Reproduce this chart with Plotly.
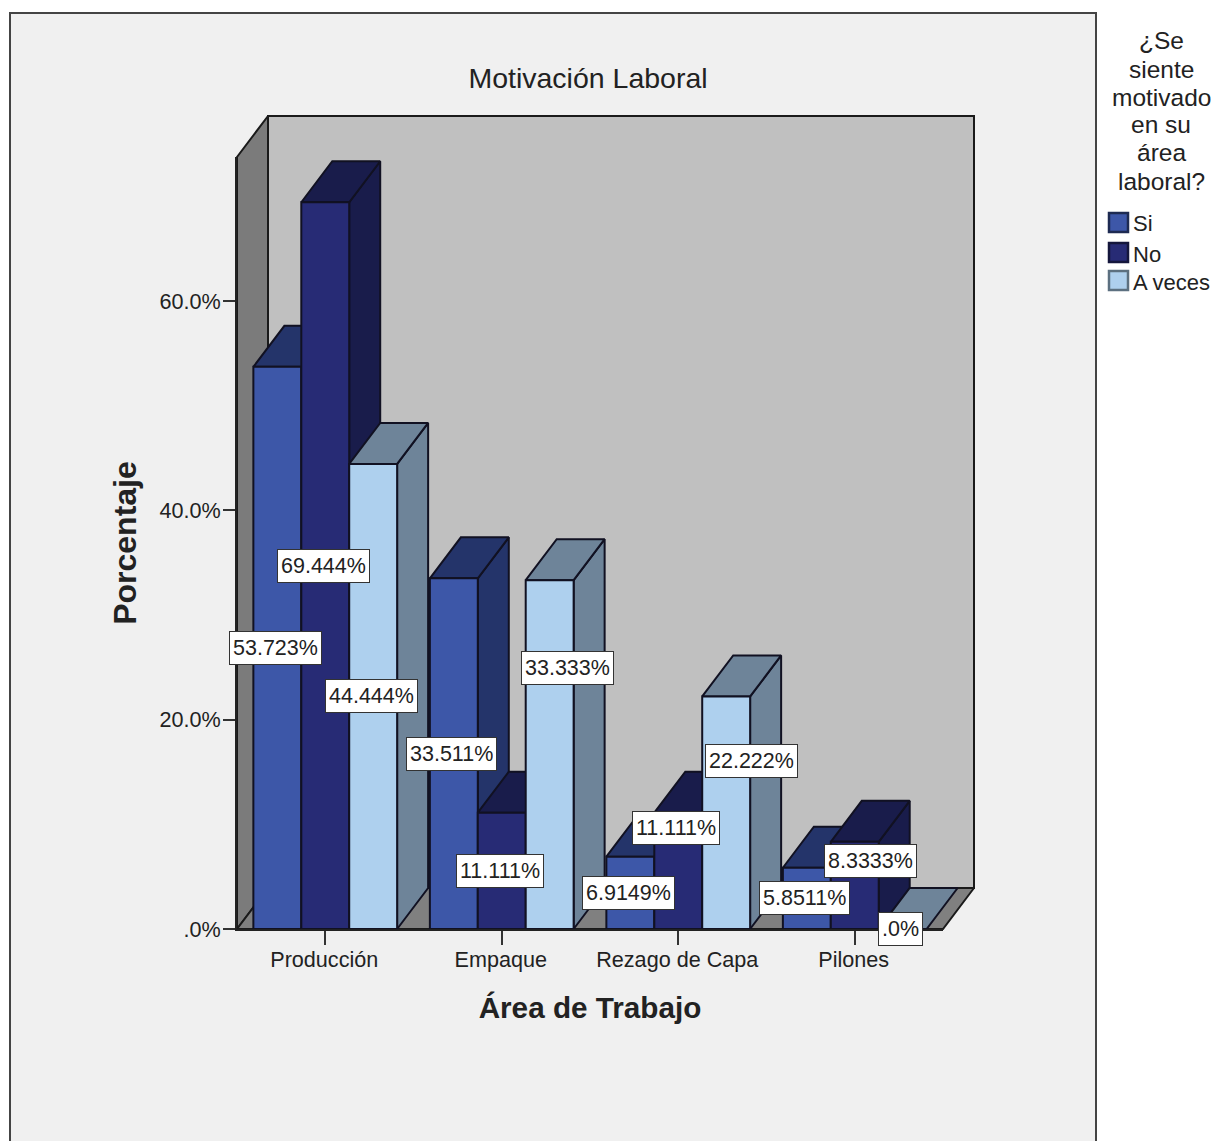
import plotly.graph_objects as go

# Survey results
AREAS = ["Producción", "Empaque", "Rezago de Capa", "Pilones"]
SI = [53.723, 33.511, 6.9149, 5.8511]
NO = [69.444, 11.111, 11.111, 8.3333]
A_VECES = [44.444, 33.333, 22.222, 0.0]
Y_TICKS = [0, 20, 40, 60]
Y_TICK_TEXT = [".0%", "20.0%", "40.0%", "60.0%"]

TITLE = "Motivación Laboral"
LEGEND_TITLE_LINES = ["¿Se", "siente", "motivado", "en su", "área", "laboral?"]

# Page geometry
W, H = 1217, 1141
FRONT_LEFT, FRONT_RIGHT = 237, 943
FRONT_TOP, FRONT_BOTTOM = 157, 929
DEPTH_PX = (31, 41)
PAD_PX = 4  # room around the box subplot so its outline is not clipped
Y_MAX = 73.77
X_MIN, X_MAX = -0.5, 3.5
BAR_WIDTH = 0.2715

unit_x = (FRONT_RIGHT - FRONT_LEFT) / (X_MAX - X_MIN)
unit_y = (FRONT_BOTTOM - FRONT_TOP) / Y_MAX
DX, DY = DEPTH_PX[0] / unit_x, DEPTH_PX[1] / unit_y

EDGE = "#111122"
FONT = "Liberation Sans"
TEXT = "#222222"

# name, values, front, side, top, legend border
SERIES = [
    ("Si", SI, "#3d57a8", "#24346a", "#24346a", "#1d2a52"),
    ("No", NO, "#272b75", "#191c4b", "#191c4b", "#14163c"),
    ("A veces", A_VECES, "#aed0ee", "#6e8499", "#6e8499", "#5c7080"),
]

# Pixel nudges for the labels moved away from neighbouring bars: (series, area) -> (dx, dy)
LABEL_NUDGE = {
    (2, 1): (18, 87),
    (1, 2): (-2, 43),
    (2, 2): (25, 52),
    (1, 3): (16, 24),
}


def polygon(xs, ys, fill, line=EDGE, width=2):
    return go.Scatter(
        x=xs + xs[:1], y=ys + ys[:1], mode="lines", fill="toself", fillcolor=fill,
        line=dict(color=line, width=width), showlegend=False, hoverinfo="skip",
    )


fig = go.Figure()

# Chart box: left wall, back wall and floor
fig.add_trace(polygon([X_MIN, X_MIN + DX, X_MIN + DX, X_MIN], [0, DY, Y_MAX + DY, Y_MAX], "#7b7b7b", line="#1a1a1a"))
fig.add_trace(polygon([X_MIN + DX, X_MAX + DX, X_MAX + DX, X_MIN + DX], [DY, DY, Y_MAX + DY, Y_MAX + DY], "#c0c0c0", line="#1a1a1a"))
fig.add_trace(polygon([X_MIN, X_MAX, X_MAX + DX, X_MIN + DX], [0, 0, DY, DY], "#808080", line="#1a1a1a"))

# Side and top faces, painted left to right
for i in range(len(AREAS)):
    for j, (_, values, _, side, top, _) in enumerate(SERIES):
        v = values[i]
        x0 = i + (j - 1.5) * BAR_WIDTH
        x1 = x0 + BAR_WIDTH
        if v > 0:
            fig.add_trace(polygon([x1, x1 + DX, x1 + DX, x1], [0, DY, v + DY, v], side))
        fig.add_trace(polygon([x0, x0 + DX, x1 + DX, x1], [v, v + DY, v + DY, v], top))

# Front faces belong to the front-plane subplot, which is painted after the box subplot
for name, values, front, _, _, _ in SERIES:
    fig.add_trace(go.Bar(
        name=name, x=list(range(len(AREAS))), y=values, marker=dict(color=front, line=dict(color=EDGE, width=2)),
        xaxis="x2", yaxis="y2", showlegend=False,
    ))

# Value labels
annotations = []
for j, (_, values, _, _, _, _) in enumerate(SERIES):
    for i, v in enumerate(values):
        text = f"{v:.5g}%" if v else ".0%"
        dx, dy = LABEL_NUDGE.get((j, i), (-2, 0))
        annotations.append(dict(
            x=i + (j - 1) * BAR_WIDTH, y=v / 2, xref="x2", yref="y2", text=text, showarrow=False,
            xshift=dx, yshift=dy, bgcolor="white", bordercolor="#333333", borderwidth=1, borderpad=3,
            height=26, valign="middle", font=dict(family=FONT, size=21.5, color=TEXT),
        ))

# Legend column
for line, y_px in zip(LEGEND_TITLE_LINES, [41, 69, 97, 125, 153, 181]):
    annotations.append(dict(
        x=1161 / W, y=1 - y_px / H, xref="paper", yref="paper", text=line, showarrow=False,
        xanchor="center", yanchor="middle", font=dict(family=FONT, size=24.5, color=TEXT),
    ))
shapes = [dict(
    type="rect", xref="paper", yref="paper", x0=10 / W, x1=1096 / W, y0=-0.01, y1=1 - 13 / H,
    fillcolor="#f0f0f0", line=dict(color="#444444", width=2), layer="below",
)]
for (name, _, front, _, _, border), top_px, text_y in zip(SERIES, [213, 243, 271], [223, 254, 282]):
    shapes.append(dict(
        type="rect", xref="paper", yref="paper", x0=1109 / W, x1=1128 / W,
        y0=1 - (top_px + 19) / H, y1=1 - top_px / H,
        fillcolor=front, line=dict(color=border, width=2.5), layer="above",
    ))
    annotations.append(dict(
        x=1131 / W, y=1 - text_y / H, xref="paper", yref="paper", text=name, showarrow=False,
        xanchor="left", yanchor="middle", font=dict(family=FONT, size=22, color=TEXT),
    ))

axis_common = dict(linecolor="#222222", linewidth=2, showline=True, ticks="outside", tickcolor="#333333", tickwidth=2,
                   showgrid=False, zeroline=False, tickfont=dict(family=FONT, size=21.6, color=TEXT), automargin=False)

pad_x, pad_y = PAD_PX / unit_x, PAD_PX / unit_y

fig.update_layout(
    width=W, height=H, margin=dict(l=0, r=0, t=0, b=0, autoexpand=False), autosize=False,
    paper_bgcolor="white", plot_bgcolor="rgba(0,0,0,0)",
    barmode="group", bargap=1 - 3 * BAR_WIDTH, bargroupgap=0,
    title=dict(text=TITLE, x=588 / W, xanchor="center", y=1 - 78 / H, yanchor="middle",
               font=dict(family=FONT, size=28.5, color=TEXT)),
    # Box subplot: spans the front plane plus the depth offset
    xaxis=dict(domain=[(FRONT_LEFT - PAD_PX) / W, (FRONT_RIGHT + DEPTH_PX[0] + PAD_PX) / W],
               range=[X_MIN - pad_x, X_MAX + DX + pad_x], visible=False),
    yaxis=dict(domain=[1 - (FRONT_BOTTOM + PAD_PX) / H, 1 - (FRONT_TOP - DEPTH_PX[1] - PAD_PX) / H],
               range=[-pad_y, Y_MAX + DY + pad_y], visible=False),
    # Front-plane subplot: carries the visible axes
    xaxis2=dict(domain=[FRONT_LEFT / W, FRONT_RIGHT / W], range=[X_MIN, X_MAX], anchor="y2",
                tickmode="array", tickvals=list(range(len(AREAS))), ticktext=AREAS,
                ticklen=14, ticklabelstandoff=-4, ticklabelshift=-1,
                title=dict(text="<b>Área de Trabajo</b>", standoff=26, font=dict(family=FONT, size=29.7, color=TEXT)),
                **axis_common),
    yaxis2=dict(domain=[1 - FRONT_BOTTOM / H, 1 - FRONT_TOP / H], range=[0, Y_MAX], anchor="x2",
                tickmode="array", tickvals=Y_TICKS, ticktext=Y_TICK_TEXT,
                ticklen=12, ticklabelstandoff=-2,
                title=dict(text="<b>Porcentaje</b>", standoff=13, font=dict(family=FONT, size=32, color=TEXT)),
                **axis_common),
    shapes=shapes, annotations=annotations,
)

fig.write_html("out.html", config=dict(displayModeBar=False))
